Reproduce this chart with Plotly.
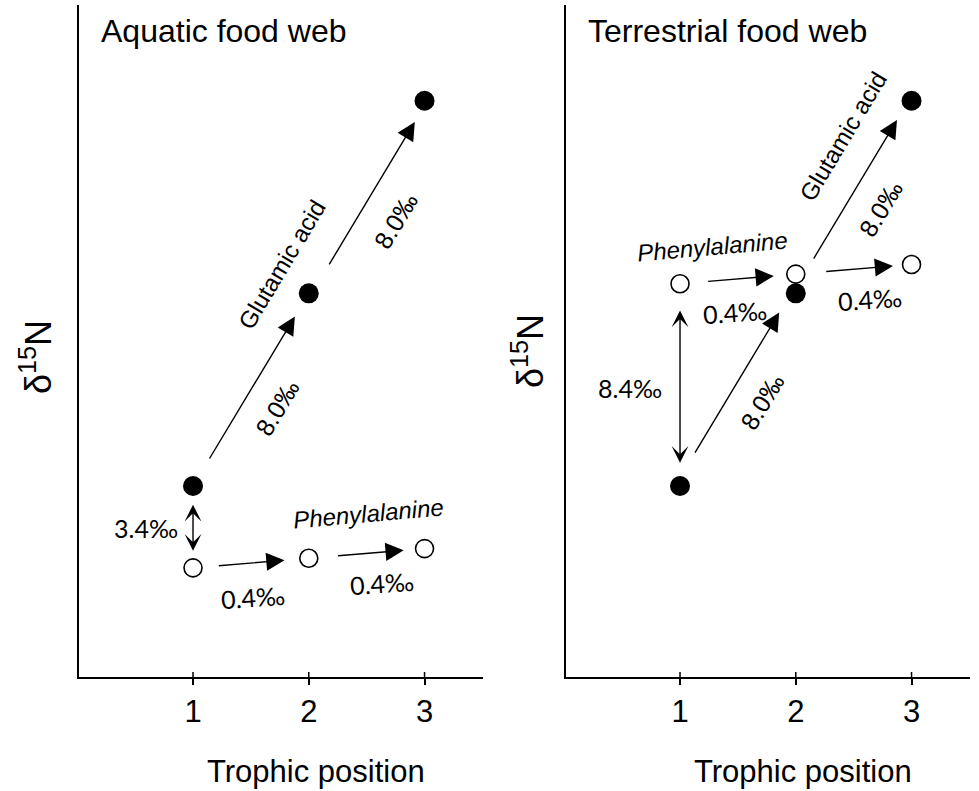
import plotly.graph_objects as go

# ---------------- data ----------------
trophic = [1, 2, 3]
tick_labels = ["1", "2", "3"]

aquatic_glu = [8.4, 16.4, 24.4]     # Glutamic acid (filled)
aquatic_phe = [5.0, 5.4, 5.8]       # Phenylalanine (open)
terrestrial_glu = [8.4, 16.4, 24.4]
terrestrial_phe = [16.8, 17.2, 17.6]

panel_titles = ["Aquatic food web", "Terrestrial food web"]
x_title = "Trophic position"
y_title = "δ<sup>15</sup>N"

# ---------------- styling ----------------
FONT = "Liberation Sans, Arial, sans-serif"
LBL_FONT = "Lato, Liberation Sans, Arial, sans-serif"
XR = [0.015, 3.505]
YR = [0.468, 28.375]

fig = go.Figure()

panels = [
    dict(xa="x", ya="y", glu=aquatic_glu, phe=aquatic_phe),
    dict(xa="x2", ya="y2", glu=terrestrial_glu, phe=terrestrial_phe),
]

for p in panels:
    fig.add_trace(go.Scatter(
        x=trophic, y=p["glu"], xaxis=p["xa"], yaxis=p["ya"], mode="markers",
        marker=dict(size=20, color="black", line=dict(width=0)),
        showlegend=False, cliponaxis=False, hoverinfo="skip"))
    fig.add_trace(go.Scatter(
        x=trophic, y=p["phe"], xaxis=p["xa"], yaxis=p["ya"], mode="markers",
        marker=dict(size=18, color="white", line=dict(width=1.6, color="black")),
        showlegend=False, cliponaxis=False, hoverinfo="skip"))

annotations = []
shapes = []


def arrow(xr, yr, xa, ya, xb, yb, f0, f1, double=False, xshift=0):
    tx, ty = xa + f0 * (xb - xa), ya + f0 * (yb - ya)
    hx, hy = xa + f1 * (xb - xa), ya + f1 * (yb - ya)
    d = dict(x=hx, y=hy, ax=tx, ay=ty, xref=xr, yref=yr, axref=xr, ayref=yr,
             text="", showarrow=True, arrowcolor="black", arrowwidth=1.4,
             standoff=0, startstandoff=0, xshift=xshift)
    if double:
        d.update(arrowhead=3, arrowsize=2.0, startarrowhead=3,
                 startarrowsize=2.0, arrowside="end+start")
    else:
        d.update(arrowhead=2, arrowsize=2.6)
    annotations.append(d)


def label(xr, yr, x, y, text, dx, dy, angle=0, size=25, italic=False, font=FONT):
    t = f"<i>{text}</i>" if italic else text
    annotations.append(dict(x=x, y=y, xref=xr, yref=yr, text=t, showarrow=False,
                            xshift=dx, yshift=-dy, textangle=angle,
                            xanchor="center", yanchor="middle",
                            font=dict(family=font, size=size, color="black")))


def mid(a, b):
    return (a + b) / 2.0


# ---- Aquatic panel ----
g, ph = aquatic_glu, aquatic_phe
t = trophic
arrow("x", "y", t[0], g[0], t[1], g[1], 0.135, 0.88)
arrow("x", "y", t[1], g[1], t[2], g[2], 0.143, 0.89, xshift=3)
arrow("x", "y", t[0], ph[0], t[1], ph[1], 0.21, 0.79)
arrow("x", "y", t[1], ph[1], t[2], ph[2], 0.24, 0.82)
arrow("x", "y", t[0], g[0], t[0], ph[0], 0.21, 0.79, double=True)

label("x", "y", mid(t[0], t[1]), mid(g[0], g[1]), "8.0‰", 26, 18, angle=-59)
label("x", "y", mid(t[1], t[2]), mid(g[1], g[2]), "8.0‰", 29, 24, angle=-59)
label("x", "y", t[1], g[1], "Glutamic acid", -27, -29, angle=-59, size=24)
label("x", "y", t[0], mid(g[0], ph[0]), "3.4‰", -47, 1, font=LBL_FONT)
label("x", "y", mid(t[0], t[1]), mid(ph[0], ph[1]), "0.4‰", 2, 34, angle=-4, font=LBL_FONT)
label("x", "y", mid(t[1], t[2]), mid(ph[1], ph[2]), "0.4‰", 15, 30, angle=-4, font=LBL_FONT)
label("x", "y", mid(t[1], t[2]), mid(ph[1], ph[2]), "Phenylalanine", 2, -40, angle=-5, size=24, italic=True)

# ---- Terrestrial panel ----
g, ph = terrestrial_glu, terrestrial_phe
arrow("x2", "y2", t[0], g[0], t[1], g[1], 0.165, 0.90, xshift=-5)
arrow("x2", "y2", t[1], g[1], t[2], g[2], 0.173, 0.90, xshift=-3)
arrow("x2", "y2", t[0], ph[0], t[1], ph[1], 0.23, 0.81)
arrow("x2", "y2", t[1], ph[1], t[2], ph[2], 0.25, 0.84)
arrow("x2", "y2", t[0], ph[0], t[0], g[0], 0.125, 0.885, double=True)

label("x2", "y2", mid(t[0], t[1]), mid(g[0], g[1]), "8.0‰", 24, 12, angle=-59)
label("x2", "y2", mid(t[1], t[2]), mid(g[1], g[2]), "8.0‰", 27, 12, angle=-59)
label("x2", "y2", mid(t[1], t[2]), mid(g[1], g[2]), "Glutamic acid", -11, -61, angle=-59, size=24)
label("x2", "y2", t[0], mid(ph[0], g[0]), "8.4‰", -50, 3, font=LBL_FONT)
label("x2", "y2", mid(t[0], t[1]), mid(ph[0], ph[1]), "0.4‰", -3, 33, angle=-4, font=LBL_FONT)
label("x2", "y2", mid(t[1], t[2]), mid(ph[1], ph[2]), "0.4‰", 16, 30, angle=-4, font=LBL_FONT)
label("x2", "y2", mid(t[0], t[1]), mid(ph[0], ph[1]), "Phenylalanine", -25, -32, angle=-5, size=24, italic=True)

# ---- panel titles, axis titles ----
for xr, yr, title, tshift, yl_dx, yl_dy in [("x", "y", panel_titles[0], 20, -43, 16),
                                             ("x2", "y2", panel_titles[1], 20, -38, 10)]:
    annotations.append(dict(x=0, y=1, xref=f"{xr} domain", yref=f"{yr} domain",
                            text=title, showarrow=False, xanchor="left", yanchor="middle",
                            xshift=tshift, yshift=-26,
                            font=dict(family=FONT, size=32, color="black")))
    annotations.append(dict(x=0.586, y=0, xref=f"{xr} domain", yref=f"{yr} domain",
                            text=x_title, showarrow=False, xanchor="center", yanchor="middle",
                            yshift=-94, font=dict(family=FONT, size=31, color="black")))
    annotations.append(dict(x=0, y=0.5, xref=f"{xr} domain", yref=f"{yr} domain",
                            text=y_title, showarrow=False, xanchor="center", yanchor="middle",
                            xshift=yl_dx, yshift=-yl_dy, textangle=-90,
                            font=dict(family=FONT, size=36, color="black")))
    # inner half of the crossing tick marks
    for tv in trophic:
        shapes.append(dict(type="line", xref=xr, yref=f"{yr} domain",
                           x0=tv, x1=tv, y0=0, y1=0.0075,
                           line=dict(color="black", width=1.5)))

axis_common = dict(showgrid=False, zeroline=False, showline=True, linecolor="black",
                   linewidth=2, fixedrange=True)
xcommon = dict(axis_common, range=XR, tickvals=trophic, ticktext=tick_labels,
               ticks="outside", ticklen=6, tickwidth=1.5, tickcolor="black",
               tickfont=dict(family=FONT, size=31, color="black"))
ycommon = dict(axis_common, range=YR, showticklabels=False, ticks="")

fig.update_layout(
    width=979, height=791,
    margin=dict(l=0, r=0, t=5, b=114),
    paper_bgcolor="white", plot_bgcolor="white",
    xaxis=dict(xcommon, domain=[79 / 979, 483 / 979], anchor="y"),
    yaxis=dict(ycommon, domain=[0, 1], anchor="x"),
    xaxis2=dict(xcommon, domain=[566 / 979, 970 / 979], anchor="y2"),
    yaxis2=dict(ycommon, domain=[0, 1], anchor="x2"),
    annotations=annotations,
    shapes=shapes,
    showlegend=False,
)

fig.write_html("out.html", config={"displayModeBar": False})
